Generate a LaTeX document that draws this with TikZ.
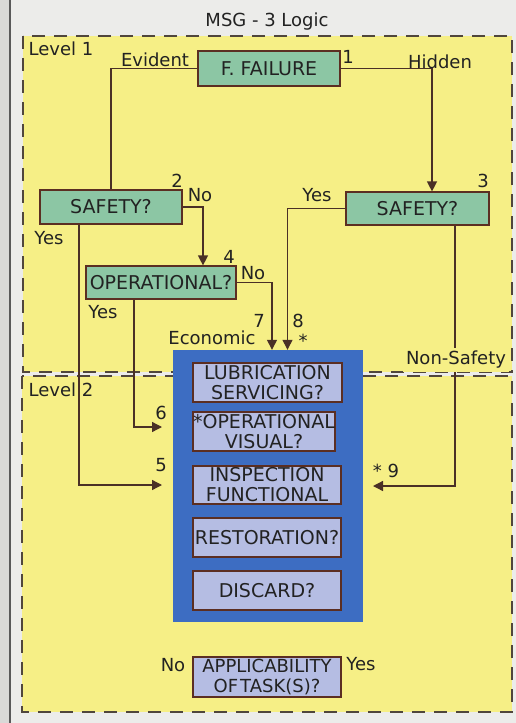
\documentclass[tikz,border=0pt]{standalone}
\usepackage{fontspec}
\setmainfont{DejaVu Sans}
\usetikzlibrary{arrows.meta}
\definecolor{pagebg}{HTML}{ECECEA}
\definecolor{yel}{HTML}{F6EF86}
\definecolor{grn}{HTML}{8CC6A4}
\definecolor{bord}{HTML}{5B2E22}
\definecolor{blu}{HTML}{3D6DC2}
\definecolor{lav}{HTML}{B5BDE3}
\definecolor{lin}{HTML}{4A3026}
\definecolor{txt}{HTML}{222222}
\definecolor{dsh}{HTML}{50463C}
\newcommand{\boxfont}{\fontsize{19}{20}\selectfont}
\newcommand{\smboxfont}{\fontsize{18}{20}\selectfont}
\newcommand{\lblfont}{\fontsize{18}{20}\selectfont}
\begin{document}
\begin{tikzpicture}[x=1pt,y=-1pt,
  every node/.style={text=txt},
  qbox/.style={draw=bord, line width=1.2pt, inner sep=0pt, align=center, font=\boxfont},
  gbox/.style={qbox, fill=grn},
  lbox/.style={qbox, fill=lav},
  lbl/.style={inner sep=0pt, font=\lblfont},
  conn/.style={draw=lin, line width=1.3pt},
  arr/.style={conn, -{Triangle[length=10pt,width=10pt]}},
  lvl/.style={fill=yel, draw=dsh, line width=1.3pt, dash pattern=on 13pt off 9pt}]
\useasboundingbox (0,0) rectangle (516,723);
\fill[pagebg] (0,0) rectangle (516,723);
\fill[pagebg!92!black] (0,0) rectangle (10,723);
\draw[gray!70!black, line width=1.2pt] (10,0) -- (10,723);
% level areas
\path[lvl] (23,36) rectangle (512,372);
\path[lvl] (22,376) rectangle (512,712);
% title
\node[lbl] (title) at (267,22) {MSG - 3 Logic};
\node[lbl] (lv1) at (61,49) {Level 1};
\node[lbl] (lv2) at (61,390) {Level 2};
% level 1 boxes
\node[gbox, minimum width=142pt, minimum height=35pt] (ff) at (269,68.5) {F. FAILURE};
\node[gbox, minimum width=142pt, minimum height=34pt] (s2) at (111,207) {SAFETY?};
\node[gbox, minimum width=143pt, minimum height=33pt] (s3) at (417.5,208.5) {SAFETY?};
\node[gbox, minimum width=150pt, minimum height=33pt] (op) at (161,282.5) {OPERATIONAL?};
% blue block
\node[fill=blu, minimum width=190pt, minimum height=272pt, inner sep=0pt] (blue) at (267.5,486) {};
\node[lbox, minimum width=149pt, minimum height=39pt] (lub) at (267.5,382.5) {LUBRICATION\\SERVICING?};
\node[lbox, minimum width=142pt, minimum height=39pt] (ov) at (264,431.5) {*OPERATIONAL\\VISUAL?};
\node[lbox, minimum width=148pt, minimum height=38pt] (insp) at (267,485) {INSPECTION\\FUNCTIONAL};
\node[lbox, minimum width=148pt, minimum height=39pt] (rest) at (267,537.5) {RESTORATION?};
\node[lbox, minimum width=148pt, minimum height=39pt] (disc) at (267,590.5) {DISCARD?};
\node[lbox, font=\smboxfont, minimum width=148pt, minimum height=40pt] (app) at (267,677) {APPLICABILITY\\OF\kern2pt TASK(S)?};
% free ends
\coordinate (in5) at (162,485);
\coordinate (in6) at (162,427);
\coordinate (in9) at (373,486);
% connectors
\draw[conn] (ff.west) -| (s2.north);
\draw[arr] (ff.east) -| ([xshift=14.5pt]s3.north);
\draw[arr] (s2.east) -| ([xshift=42pt]op.north);
\draw[arr] (op.east) -| ([xshift=4.5pt]blue.north);
\draw[arr] (s3.west) -| ([xshift=20pt]blue.north);
\draw[arr] ([xshift=-32pt]s2.south) |- (in5);
\draw[arr] ([xshift=-27pt]op.south) |- (in6);
\draw[arr] ([xshift=37.5pt]s3.south) |- (in9);
% labels
\node[lbl] (lEv) at (155,60) {Evident};
\node[lbl] (l1) at (348,57) {1};
\node[lbl] (lHi) at (440,62) {Hidden};
\node[lbl] (l2) at (177,181) {2};
\node[lbl] (lNo2) at (200,195) {No};
\node[lbl] (l3) at (483,181) {3};
\node[lbl] (lYes3) at (317,195) {Yes};
\node[lbl] (lYes2) at (49,238) {Yes};
\node[lbl] (l4) at (229,257) {4};
\node[lbl] (lNo4) at (253,273) {No};
\node[lbl] (lYes4) at (103,312) {Yes};
\node[lbl] (l7) at (259,321) {7};
\node[lbl] (l8) at (298,321) {8};
\node[lbl] (lEc) at (212,338) {Economic};
\node[lbl] (lst) at (303,341) {*};
\node[lbl, fill=yel, inner sep=3pt] (lNS) at (456,360) {Non-Safety};
\node[lbl] (l6) at (161,413) {6};
\node[lbl] (l5) at (161,465) {5};
\node[lbl] (l9) at (386,471) {* 9};
\node[lbl] (lNoA) at (173,665) {No};
\node[lbl] (lYesA) at (361,664) {Yes};
\end{tikzpicture}
\end{document}
